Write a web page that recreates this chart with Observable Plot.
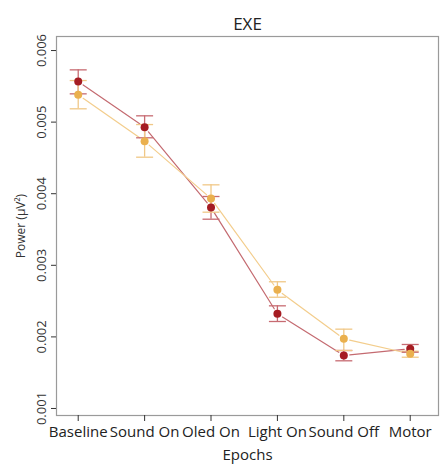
<!DOCTYPE html>
<html>
<head>
<meta charset="utf-8">
<script src="https://cdn.jsdelivr.net/npm/d3@7"></script>
<script src="https://cdn.jsdelivr.net/npm/@observablehq/plot@0.6"></script>
<style>
  html, body { margin: 0; padding: 0; background: #fff; }
  svg { display: block; }
</style>
</head>
<body>
<div id="chart"></div>
<script>
const epochs = ["Baseline", "Sound On", "Oled On", "Light On", "Sound Off", "Motor"];
const yTicks = [0.001, 0.002, 0.003, 0.004, 0.005, 0.006];

const redMean = [0.005567, 0.004929, 0.003807, 0.002322, 0.00174, 0.001834];
const redHigh = [0.00573, 0.005088, 0.003961, 0.002434, 0.00181, 0.001894];
const redLow  = [0.005395, 0.004781, 0.003644, 0.002215, 0.001666, 0.001786];

const orangeMean = [0.005381, 0.004733, 0.003933, 0.002657, 0.001973, 0.001763];
const orangeHigh = [0.005581, 0.004966, 0.004124, 0.00277, 0.002108, 0.0018];
const orangeLow  = [0.005186, 0.00451, 0.003742, 0.002554, 0.00181, 0.001716];

const series = [
  {name: "red", mean: redMean, high: redHigh, low: redLow, point: "#a51c22", line: "#c46a70", err: "#c76b72"},
  {name: "orange", mean: orangeMean, high: orangeHigh, low: orangeLow, point: "#eab04e", line: "#f3cd8c", err: "#f0c887"}
];

const rows = [];
const segs = [];
for (const s of series) {
  s.mean.forEach((m, i) => {
    rows.push({s: s.name, x: i + 1, mean: m, high: s.high[i], low: s.low[i], point: s.point, err: s.err});
    if (i < s.mean.length - 1) segs.push({s: s.name, x1: i + 1, y1: m, x2: i + 2, y2: s.mean[i + 1], line: s.line});
  });
}

// horizontal cap symbol for error bars
const capSymbol = {draw(ctx) { ctx.moveTo(-8.5, 0); ctx.lineTo(8.5, 0); }};

const font = "'Open Sans', 'DejaVu Sans', sans-serif";

const chart = Plot.plot({
  width: 443,
  height: 466,
  marginLeft: 56,
  marginRight: 5,
  marginTop: 36,
  marginBottom: 51,
  style: {fontFamily: font, background: "#fff", color: "#222"},
  x: {type: "linear", domain: [0.673, 6.426]},
  y: {domain: [0.000902, 0.006196]},
  marks: [
    Plot.frame({stroke: "#9a9a9a", strokeWidth: 1.2}),
    Plot.axisY({
      ticks: yTicks, tickFormat: d3.format(".3f"), tickSize: 5, tickPadding: 6,
      tickRotate: -90, fontSize: 13, stroke: "#333", fill: "#333",
      label: "Power (µV²)", labelAnchor: "center", labelArrow: "none", labelOffset: 40
    }),
    Plot.axisX({
      ticks: [1, 2, 3, 4, 5, 6], tickFormat: d => epochs[d - 1], tickSize: 6, tickPadding: 5,
      fontSize: 15, stroke: "#333", fill: "#222",
      label: "Epochs", labelAnchor: "center", labelArrow: "none", labelOffset: 44
    }),
    Plot.arrow(segs, {x1: "x1", y1: "y1", x2: "x2", y2: "y2", stroke: "line", headLength: 0, inset: 6, strokeWidth: 1.2}),
    Plot.ruleX(rows, {x: "x", y1: "low", y2: "high", stroke: "err", strokeWidth: 1.3}),
    Plot.dot(rows, {x: "x", y: "high", symbol: capSymbol, stroke: "err", fill: "none", strokeWidth: 1.3}),
    Plot.dot(rows, {x: "x", y: "low", symbol: capSymbol, stroke: "err", fill: "none", strokeWidth: 1.3}),
    Plot.dot(rows, {x: "x", y: "mean", fill: "point", r: 4}),
    Plot.text(["EXE"], {frameAnchor: "top", dy: -19, fontSize: 17, fill: "#222"})
  ]
});
// axis label font sizes
chart.querySelectorAll("g[aria-label='y-axis label'] text").forEach(t => t.setAttribute("font-size", 12));
chart.querySelectorAll("g[aria-label='x-axis label'] text").forEach(t => t.setAttribute("font-size", 15));
document.getElementById("chart").appendChild(chart);
</script>
</body>
</html>
